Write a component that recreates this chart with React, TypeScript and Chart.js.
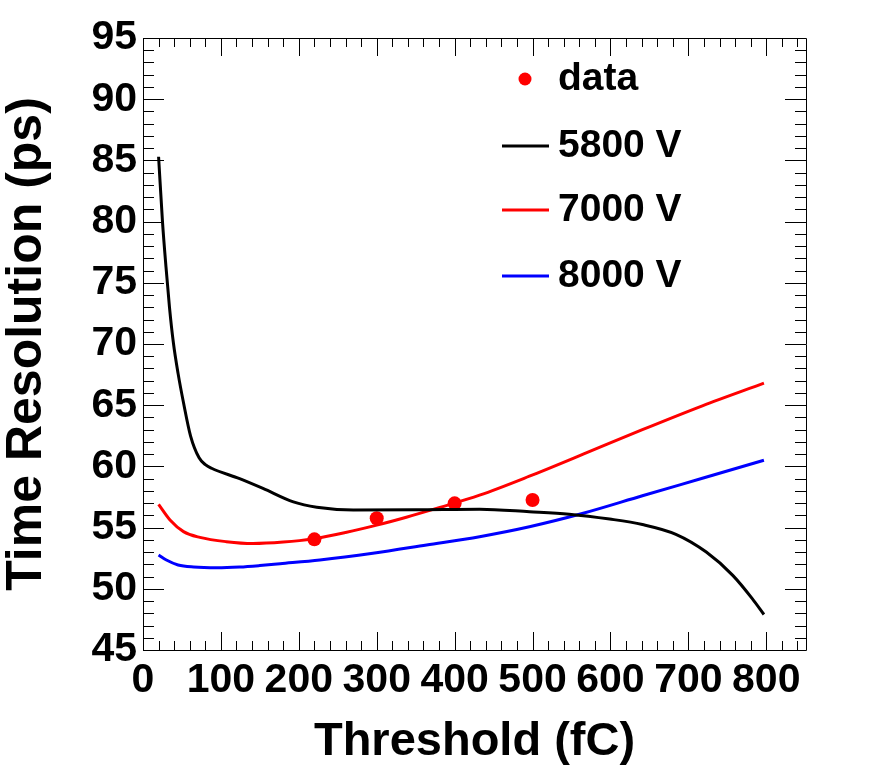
import React, { useEffect, useRef } from 'react';
import { Chart, registerables } from 'chart.js';

Chart.register(...registerables);

// measured data points (threshold in fC, resolution in ps)
const dataX = [220, 300, 400, 500];
const dataY = [54.04, 55.76, 56.98, 57.25];

// 5800 V curve
const v5800X = [20, 25, 29.5, 34, 39, 45, 52, 61, 72, 80, 88, 124, 154, 193, 223, 270, 350, 432, 496, 547, 599, 641, 684, 723, 757, 782, 797];
const v5800Y = [85.3, 80.0, 76.3, 73.0, 70.1, 67.6, 65.2, 62.5, 60.7, 60.15, 59.85, 59.0, 58.2, 57.1, 56.66, 56.44, 56.45, 56.5, 56.3, 56.1, 55.7, 55.25, 54.45, 53.0, 51.1, 49.2, 47.9];

// 7000 V curve
const v7000X = [20, 35, 52, 73, 107, 141, 180, 218, 260, 300, 338, 381, 432, 496, 565, 641, 718, 797];
const v7000Y = [56.9, 55.6, 54.67, 54.2, 53.85, 53.7, 53.82, 54.08, 54.6, 55.2, 55.85, 56.65, 57.65, 59.2, 61.0, 63.0, 64.95, 66.8];

// 8000 V curve
const v8000X = [20, 30, 45, 65, 95, 124, 150, 176, 227, 295, 364, 432, 496, 565, 641, 718, 797];
const v8000Y = [52.76, 52.35, 51.95, 51.78, 51.72, 51.78, 51.9, 52.05, 52.35, 52.9, 53.58, 54.26, 55.07, 56.17, 57.6, 59.03, 60.5];

// axis tick values
const xTickValues = [0, 100, 200, 300, 400, 500, 600, 700, 800];
const yTickValues = [45, 50, 55, 60, 65, 70, 75, 80, 85, 90, 95];

const legendLabels = ['data', '5800 V', '7000 V', '8000 V'];
const colors = ['#ff0000', '#000000', '#ff0000', '#0000ff'];

const X_MIN = 0;
const X_MAX = 851;
const Y_MIN = 45;
const Y_MAX = 95;

const FONT = "'Liberation Sans', Arial, Helvetica, sans-serif";

const pts = (xs: number[], ys: number[]) => xs.map((x, i) => ({ x, y: ys[i] }));

// ROOT style frame with inward ticks on all four sides
const frameTicks = {
  id: 'frameTicks',
  afterDatasetsDraw(chart: any) {
    const { ctx, chartArea: a, scales } = chart;
    const sx = scales.x;
    const sy = scales.y;
    ctx.save();
    ctx.strokeStyle = '#000';
    ctx.lineWidth = 1;
    ctx.beginPath();
    ctx.rect(Math.round(a.left) + 0.5, Math.round(a.top) + 0.5, Math.round(a.width), Math.round(a.height));
    for (let i = 0; i * 20 <= X_MAX; i++) {
      const px = Math.round(sx.getPixelForValue(i * 20)) + 0.5;
      const len = i % 5 === 0 ? 18 : 9;
      ctx.moveTo(px, a.bottom);
      ctx.lineTo(px, a.bottom - len);
      ctx.moveTo(px, a.top);
      ctx.lineTo(px, a.top + len);
    }
    for (let v = Y_MIN; v <= Y_MAX; v++) {
      const py = Math.round(sy.getPixelForValue(v)) + 0.5;
      const len = v % 5 === 0 ? 21 : 11;
      ctx.moveTo(a.left, py);
      ctx.lineTo(a.left + len, py);
      ctx.moveTo(a.right, py);
      ctx.lineTo(a.right - len, py);
    }
    ctx.stroke();
    ctx.restore();
  },
};

const rootLegend = {
  id: 'rootLegend',
  afterDraw(chart: any) {
    const { ctx } = chart;
    const rows = [79, 146, 210, 276];
    ctx.save();
    ctx.font = `bold 39px ${FONT}`;
    ctx.textBaseline = 'middle';
    ctx.textAlign = 'left';
    legendLabels.forEach((label, i) => {
      const y = rows[i];
      if (i === 0) {
        ctx.fillStyle = colors[i];
        ctx.beginPath();
        ctx.arc(525, y, 6.5, 0, Math.PI * 2);
        ctx.fill();
      } else {
        ctx.strokeStyle = colors[i];
        ctx.lineWidth = 3;
        ctx.beginPath();
        ctx.moveTo(502, y);
        ctx.lineTo(549, y);
        ctx.stroke();
      }
      ctx.fillStyle = '#000';
      ctx.fillText(label, 558, y);
    });
    ctx.restore();
  },
};

export default function App() {
  const canvasRef = useRef<HTMLCanvasElement | null>(null);

  useEffect(() => {
    if (!canvasRef.current) return;
    const line = (label: string, d: any[], color: string) => ({
      label,
      data: d,
      showLine: true,
      borderColor: color,
      backgroundColor: color,
      borderWidth: 3,
      pointRadius: 0,
      cubicInterpolationMode: 'monotone' as const,
    });

    const chart = new Chart(canvasRef.current, {
      type: 'scatter',
      data: {
        datasets: [
          line(legendLabels[1], pts(v5800X, v5800Y), colors[1]),
          line(legendLabels[2], pts(v7000X, v7000Y), colors[2]),
          line(legendLabels[3], pts(v8000X, v8000Y), colors[3]),
          {
            label: legendLabels[0],
            data: pts(dataX, dataY),
            showLine: false,
            pointRadius: 7,
            pointHoverRadius: 7,
            pointBackgroundColor: colors[0],
            pointBorderWidth: 0,
            backgroundColor: colors[0],
            borderColor: colors[0],
          },
        ],
      },
      options: {
        responsive: false,
        animation: false,
        events: [],
        layout: { padding: { top: 38, right: 90, left: 0, bottom: 0 } },
        plugins: {
          legend: { display: false },
          tooltip: { enabled: false },
        },
        scales: {
          x: {
            type: 'linear',
            min: X_MIN,
            max: X_MAX,
            grid: { display: false, drawTicks: false },
            border: { display: false },
            afterBuildTicks: (s: any) => {
              s.ticks = xTickValues.map((value) => ({ value }));
            },
            afterFit: (s: any) => {
              s.height = 124;
            },
            ticks: {
              autoSkip: false,
              maxRotation: 0,
              padding: 6,
              color: '#000',
              font: { family: FONT, size: 41, weight: 'bold' },
            },
            title: {
              display: true,
              text: 'Threshold (fC)',
              color: '#000',
              padding: { top: 0, bottom: 8 },
              font: { family: FONT, size: 47, weight: 'bold', lineHeight: 1 },
            },
          },
          y: {
            type: 'linear',
            min: Y_MIN,
            max: Y_MAX,
            grid: { display: false, drawTicks: false },
            border: { display: false },
            afterBuildTicks: (s: any) => {
              s.ticks = yTickValues.map((value) => ({ value }));
            },
            afterFit: (s: any) => {
              s.width = 143;
            },
            ticks: {
              autoSkip: false,
              padding: 6,
              color: '#000',
              font: { family: FONT, size: 41, weight: 'bold' },
            },
            title: {
              display: true,
              text: 'Time Resolution (ps)',
              color: '#000',
              padding: { top: 2, bottom: 0 },
              font: { family: FONT, size: 50, weight: 'bold', lineHeight: 1 },
            },
          },
        },
      },
      plugins: [frameTicks, rootLegend],
    });

    return () => {
      chart.destroy();
    };
  }, []);

  return (
    <div style={{ position: 'absolute', left: 0, top: 0, width: 896, height: 774, background: '#fff' }}>
      <canvas ref={canvasRef} width={896} height={774}></canvas>
    </div>
  );
}
